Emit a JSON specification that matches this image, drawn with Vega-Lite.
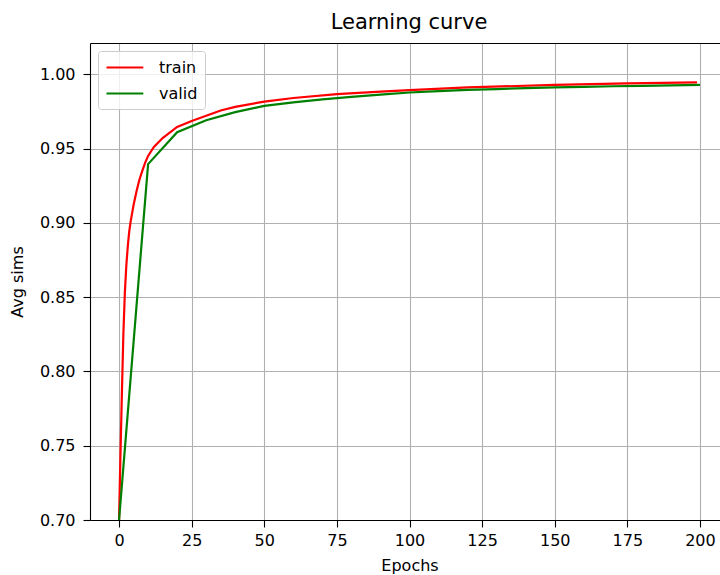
{
  "$schema": "https://vega.github.io/schema/vega-lite/v6.json",
  "width": 630,
  "height": 477,
  "autosize": {"type": "none"},
  "padding": {"left": 90, "top": 43, "right": 0, "bottom": 55},
  "background": "white",
  "title": {"text": "Learning curve", "fontSize": 21, "font": "DejaVu Sans", "fontWeight": "normal", "color": "black", "anchor": "middle", "baseline": "alphabetic", "offset": -7, "dx": 4},
  "config": {
    "view": {"stroke": null},
    "font": "DejaVu Sans",
    "axis": {"labelFont": "DejaVu Sans", "titleFont": "DejaVu Sans", "labelColor": "black", "titleColor": "black", "titleFontWeight": "normal", "domainColor": "black", "tickColor": "black", "domainWidth": 1.1, "tickWidth": 1.1, "gridColor": "#b0b0b0", "gridWidth": 1.1}
  },
  "data": {"values": [
    {"series": "train", "epoch": 0, "value": 0.70},
    {"series": "train", "epoch": 0.5, "value": 0.745},
    {"series": "train", "epoch": 1, "value": 0.787},
    {"series": "train", "epoch": 1.5, "value": 0.826},
    {"series": "train", "epoch": 2, "value": 0.853},
    {"series": "train", "epoch": 2.5, "value": 0.871},
    {"series": "train", "epoch": 3, "value": 0.884},
    {"series": "train", "epoch": 3.5, "value": 0.894},
    {"series": "train", "epoch": 4, "value": 0.901},
    {"series": "train", "epoch": 5, "value": 0.912},
    {"series": "train", "epoch": 6, "value": 0.921},
    {"series": "train", "epoch": 7, "value": 0.929},
    {"series": "train", "epoch": 8, "value": 0.935},
    {"series": "train", "epoch": 9, "value": 0.9405},
    {"series": "train", "epoch": 10, "value": 0.945},
    {"series": "train", "epoch": 12, "value": 0.951},
    {"series": "train", "epoch": 15, "value": 0.957},
    {"series": "train", "epoch": 20, "value": 0.9645},
    {"series": "train", "epoch": 25, "value": 0.9685},
    {"series": "train", "epoch": 30, "value": 0.972},
    {"series": "train", "epoch": 35, "value": 0.9756},
    {"series": "train", "epoch": 40, "value": 0.978},
    {"series": "train", "epoch": 50, "value": 0.9816},
    {"series": "train", "epoch": 60, "value": 0.984},
    {"series": "train", "epoch": 75, "value": 0.9866},
    {"series": "train", "epoch": 90, "value": 0.9883},
    {"series": "train", "epoch": 100, "value": 0.9893},
    {"series": "train", "epoch": 120, "value": 0.9911},
    {"series": "train", "epoch": 150, "value": 0.9928},
    {"series": "train", "epoch": 175, "value": 0.9938},
    {"series": "train", "epoch": 199, "value": 0.9945},
    {"series": "valid", "epoch": 0, "value": 0.70},
    {"series": "valid", "epoch": 10, "value": 0.9395},
    {"series": "valid", "epoch": 20, "value": 0.961},
    {"series": "valid", "epoch": 30, "value": 0.969},
    {"series": "valid", "epoch": 40, "value": 0.9745},
    {"series": "valid", "epoch": 50, "value": 0.9787},
    {"series": "valid", "epoch": 60, "value": 0.981},
    {"series": "valid", "epoch": 70, "value": 0.983},
    {"series": "valid", "epoch": 80, "value": 0.9847},
    {"series": "valid", "epoch": 90, "value": 0.9862},
    {"series": "valid", "epoch": 100, "value": 0.9877},
    {"series": "valid", "epoch": 110, "value": 0.9886},
    {"series": "valid", "epoch": 120, "value": 0.9894},
    {"series": "valid", "epoch": 130, "value": 0.99},
    {"series": "valid", "epoch": 140, "value": 0.9906},
    {"series": "valid", "epoch": 150, "value": 0.9911},
    {"series": "valid", "epoch": 160, "value": 0.9915},
    {"series": "valid", "epoch": 170, "value": 0.9919},
    {"series": "valid", "epoch": 180, "value": 0.9922},
    {"series": "valid", "epoch": 190, "value": 0.9925},
    {"series": "valid", "epoch": 200, "value": 0.9928}
  ]},
  "resolve": {"axis": {"x": "independent", "y": "independent"}},
  "layer": [
    {
      "mark": {"type": "line", "strokeWidth": 2.2, "clip": true},
      "encoding": {
        "x": {"field": "epoch", "type": "quantitative",
          "scale": {"domain": [-10, 206.9], "nice": false, "zero": false},
          "axis": {"title": "Epochs", "values": [0, 25, 50, 75, 100, 125, 150, 175, 200], "format": "d", "labelFontSize": 16, "titleFontSize": 16, "tickSize": 7, "labelPadding": 5, "titlePadding": 9, "grid": true, "titleX": 319.5}},
        "y": {"field": "value", "type": "quantitative",
          "scale": {"domain": [0.70, 1.021], "nice": false, "zero": false},
          "axis": {"title": "Avg sims", "values": [0.70, 0.75, 0.80, 0.85, 0.90, 0.95, 1.00], "format": ".2f", "labelFontSize": 16, "titleFontSize": 16, "tickSize": 7, "labelPadding": 8, "titlePadding": 14, "grid": true}},
        "color": {"field": "series", "type": "nominal",
          "scale": {"domain": ["train", "valid"], "range": ["#ff0000", "#008000"]},
          "legend": {"title": null, "orient": "none", "legendX": 8, "legendY": 8, "symbolType": "M-1,0H3.6", "symbolSize": 256, "symbolStrokeWidth": 2.2, "labelFontSize": 16, "labelFont": "DejaVu Sans", "labelColor": "black", "labelOffset": 35, "fillColor": "rgba(255,255,255,0.8)", "strokeColor": "#cccccc", "cornerRadius": 3, "padding": 7, "rowPadding": 8}}
      }
    },
    {
      "mark": {"type": "line", "opacity": 0},
      "encoding": {
        "x": {"field": "epoch", "type": "quantitative",
          "axis": {"orient": "top", "labels": false, "ticks": false, "grid": false, "title": null, "domain": true}},
        "y": {"field": "value", "type": "quantitative", "axis": null},
        "detail": {"field": "series"}
      }
    }
  ]
}
